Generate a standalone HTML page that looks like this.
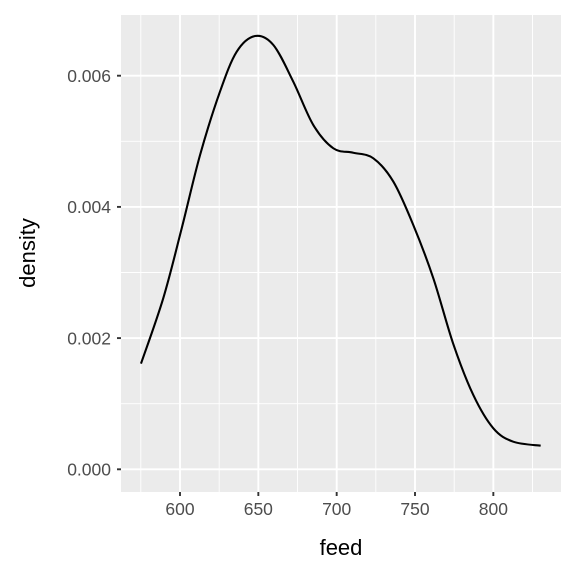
<!DOCTYPE html>
<html><head><meta charset="utf-8"><style>
body{margin:0;background:#fff}
svg{display:block;font-family:"Liberation Sans",Arial,sans-serif}
</style></head><body>
<svg id="chart" width="576" height="576">
<rect x="121" y="15" width="440" height="477" fill="#ebebeb"/>
<g id="grid"></g>
<g id="axes"></g>
<path id="curve" fill="none" stroke="#000" stroke-width="2.1"/>
<text x="341" y="555" font-size="22" text-anchor="middle" fill="#000">feed</text>
<text transform="translate(35,253) rotate(-90)" font-size="22" text-anchor="middle" fill="#000">density</text>
</svg>
<script>
const feedValues=[575.1,589.3,601.1,612.8,625.5,636.2,647.9,659.6,672.3,685.1,697.9,710.6,723.4,736.2,748.9,761.7,774.5,787.2,800,812.7,830.2];
const densityValues=[0.001611,0.002607,0.003674,0.004791,0.005756,0.006366,0.006605,0.006468,0.005909,0.005248,0.004893,0.004826,0.004741,0.004384,0.003724,0.002912,0.001905,0.001133,0.000625,0.000421,0.00036];
const xTicks=[600,650,700,750,800];
const xMinor=[575,625,675,725,775,825];
const yTicks=[0,0.002,0.004,0.006];
const yTickLabels=["0.000","0.002","0.004","0.006"];
const yMinor=[0.001,0.003,0.005];
const X=v=>180+(v-600)*1.5667;
const Y=d=>469.3-d*65600;
const ns="http://www.w3.org/2000/svg";
const grid=document.getElementById('grid'),axes=document.getElementById('axes');
function line(p,x1,y1,x2,y2,w,c,name){const l=document.createElementNS(ns,'line');
l.setAttribute('x1',x1);l.setAttribute('y1',y1);l.setAttribute('x2',x2);l.setAttribute('y2',y2);
l.setAttribute('stroke',c);l.setAttribute('stroke-width',w);


p.appendChild(l);}
function text(p,x,y,s,anchor,name){const t=document.createElementNS(ns,'text');
t.setAttribute('x',x);t.setAttribute('y',y);t.setAttribute('font-size','17.5');t.setAttribute('fill','#4d4d4d');t.setAttribute('text-anchor',anchor);t.textContent=s;


p.appendChild(t);}
xMinor.forEach(v=>line(grid,X(v),15,X(v),492,0.9,'#fff','x-minor-gridline'));
yMinor.forEach(v=>line(grid,121,Y(v),561,Y(v),0.9,'#fff','y-minor-gridline'));
xTicks.forEach(v=>{line(grid,X(v),15,X(v),492,1.9,'#fff','x-major-gridline');
line(axes,X(v),492,X(v),496,1.9,'#333','x-tick');text(axes,X(v),515,String(v),'middle','x-tick-label');});
yTicks.forEach((v,i)=>{line(grid,121,Y(v),561,Y(v),1.9,'#fff','y-major-gridline');
line(axes,117,Y(v),121,Y(v),1.9,'#333','y-tick');text(axes,111,Y(v)+6.3,yTickLabels[i],'end','y-tick-label');});
const pts=feedValues.map((v,i)=>[X(v),Y(densityValues[i])]);
let d='M'+pts[0][0]+','+pts[0][1];
for(let i=0;i<pts.length-1;i++){const p0=pts[Math.max(0,i-1)],p1=pts[i],p2=pts[i+1],p3=pts[Math.min(pts.length-1,i+2)];
d+=` C${p1[0]+(p2[0]-p0[0])/6},${p1[1]+(p2[1]-p0[1])/6} ${p2[0]-(p3[0]-p1[0])/6},${p2[1]-(p3[1]-p1[1])/6} ${p2[0]},${p2[1]}`;}
document.getElementById('curve').setAttribute('d',d);
</script>
</body></html>
